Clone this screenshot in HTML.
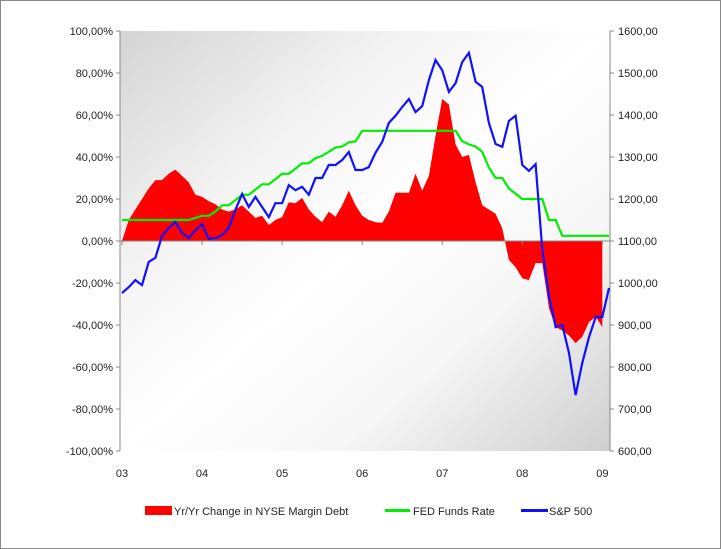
<!DOCTYPE html>
<html><head><meta charset="utf-8"><style>
html,body{margin:0;padding:0;background:#fff}
svg{display:block;font-family:"Liberation Sans",sans-serif}
</style></head><body>
<svg id="chart" width="721" height="549" viewBox="0 0 721 549" xmlns="http://www.w3.org/2000/svg">
<defs>
<linearGradient id="bg" x1="0" y1="0" x2="1" y2="1">
<stop offset="0" stop-color="#d4d4d4"/><stop offset="0.3" stop-color="#f4f4f4"/><stop offset="0.5" stop-color="#ffffff"/><stop offset="0.72" stop-color="#f6f6f6"/><stop offset="1" stop-color="#cfcfcf"/>
</linearGradient>
</defs>
<rect x="0.5" y="0.5" width="720" height="548" fill="#fff" stroke="#888"/>
<rect x="120" y="31" width="490" height="420" fill="url(#bg)"/>
<g id="layer"></g>
<g font-size="11" fill="#222">
<rect x="145" y="506" width="27" height="9" fill="#f00"/>
<text x="174" y="515">Yr/Yr Change in NYSE Margin Debt</text>
<line x1="385" y1="510.5" x2="410" y2="510.5" stroke="#00ee00" stroke-width="3"/>
<text x="413" y="515">FED Funds Rate</text>
<line x1="521" y1="510.5" x2="548" y2="510.5" stroke="#1010ff" stroke-width="3"/>
<text x="549" y="515">S&amp;P 500</text>
</g>
</svg>
<script>
const marginDebt=[0,10,15,20,25,29,29,32,34,31,28,22,21,19,17.5,15,14,15,17,14,11,12,7.6,10,11.4,18.5,18,20.5,15,11.5,9,14,11.5,17,24,17,12,10,9,8.6,14,23,23,23,32,24,31,50,67.6,65,46,40,41,28,17,15,13,6,-9,-12.5,-17.7,-18.6,-10.5,-10.5,-32,-41,-42.6,-45,-48.6,-45.6,-38.6,-36,-41];
const fedFunds=[10,10,10,10,10,10,10,10,10,10,10,11,12,12,14,17,17,19.5,22,22,24.5,27,27,29.5,32,32,34.5,37,37,39.5,40.5,42.5,44.5,45,47,47.5,52.5,52.5,52.5,52.5,52.5,52.5,52.5,52.5,52.5,52.5,52.5,52.5,52.5,52.5,52.5,47.5,46,45,42.5,35,30,30,25,22.5,20,20,20,20,10,10,2.5,2.5,2.5,2.5,2.5,2.5,2.5,2.5];
const sp500=[976,990,1007,995,1050,1060,1112,1131,1145,1119,1107,1126,1140,1105,1107,1114,1131,1174,1212,1181,1205,1181,1157,1190,1190,1233,1221,1229,1210,1250,1250,1281,1281,1293,1312,1269,1269,1276,1310,1336,1381,1398,1419,1438,1407,1421,1483,1531,1507,1455,1476,1526,1548,1479,1467,1381,1331,1324,1386,1398,1281,1267,1283,1079,969,895,900,833,733,810,871,919,919,988];
const leftTicks=["100,00%","80,00%","60,00%","40,00%","20,00%","0,00%","-20,00%","-40,00%","-60,00%","-80,00%","-100,00%"];
const rightTicks=["1600,00","1500,00","1400,00","1300,00","1200,00","1100,00","1000,00","900,00","800,00","700,00","600,00"];
const yearLabels=["03","04","05","06","07","08","09"];
const NS="http://www.w3.org/2000/svg";
const L=120,R=610,T=31,B=451;
const xi=i=>122+i*(487/73);
const yL=v=>241-v*2.1;
const yR=v=>31+(1600-v)*0.42;
const g=document.getElementById('layer');
function mk(t,a){const e=document.createElementNS(NS,t);for(const k in a)e.setAttribute(k,a[k]);g.appendChild(e);return e;}
// red area
let d='M'+xi(0)+','+yL(0);
marginDebt.forEach((v,i)=>{d+=' L'+xi(i).toFixed(1)+','+yL(v).toFixed(1);});
d+=' L'+xi(marginDebt.length-1).toFixed(1)+','+yL(0)+' Z';
const area=mk('path',{d:d,fill:'#ff0000'});


// axes
const ax=mk('path',{d:`M${L},${T} V${B} M${R},${T} V${B} M${L},${yL(0)} H${R}`,stroke:'#888',fill:'none','stroke-width':1});


leftTicks.forEach((t,i)=>{const y=T+i*42;
 mk('line',{x1:L-4,x2:L,y1:y,y2:y,stroke:'#888'});
 const e=mk('text',{x:L-7,y:y+4,'text-anchor':'end','font-size':11,fill:'#222'});e.textContent=t;
 
 
 mk('line',{x1:R,x2:R+4,y1:y,y2:y,stroke:'#888'});
 const r=mk('text',{x:R+8,y:y+4,'font-size':11,fill:'#222'});r.textContent=rightTicks[i];
 
 
});
yearLabels.forEach((t,i)=>{const x=xi(i*12);
 mk('line',{x1:x,x2:x,y1:yL(0),y2:yL(0)+4,stroke:'#888'});
 const e=mk('text',{x:x,y:477,'text-anchor':'middle','font-size':11,fill:'#222'});e.textContent=t;
 
 
});
const fp=mk('polyline',{points:fedFunds.map((v,i)=>xi(i).toFixed(1)+','+yL(v).toFixed(1)).join(' '),fill:'none',stroke:'#00ee00','stroke-width':2.2});


const sp=mk('polyline',{points:sp500.map((v,i)=>xi(i).toFixed(1)+','+yR(v).toFixed(1)).join(' '),fill:'none',stroke:'#1010ff','stroke-width':2.2});


</script>
</body></html>
